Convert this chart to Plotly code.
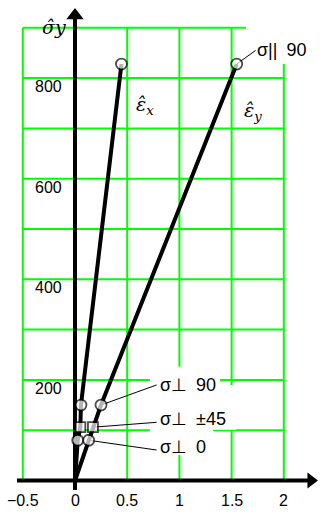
import plotly.graph_objects as go

# ---------------- data ----------------
grid_x = [-0.5, 0, 0.5, 1, 1.5, 2]
grid_y = [100, 200, 300, 400, 500, 600, 700, 800, 900]
xtick_vals = [-0.5, 0, 0.5, 1, 1.5, 2]
xtick_text = ["\u22120.5", "0", "0.5", "1", "1.5", "2"]
ytick_vals = [200, 400, 600, 800]
ytick_text = ["200", "400", "600", "800"]

# load cases (marked points); curves start at the origin
case_labels = ["\u03c3\u22a5\u20020", "\u03c3\u22a5\u2002\u00b145", "\u03c3\u22a5\u200290", "\u03c3||\u200290"]
case_sigma = [80, 106, 150, 828]
case_eps_x = [0.026, 0.051, 0.057, 0.445]
case_eps_y = [0.131, 0.172, 0.249, 1.549]

# ---------------- layout helpers (positions / styles) ----------------
X_RANGE = [-0.7184, 2.3467]
Y_RANGE = [-74.55, 955.3]
GREEN = "#00ff00"
TICK_FONT = dict(family="Liberation Sans, Arial", size=16, color="black")
LABEL_FONT = dict(family="Liberation Sans, Arial", size=18, color="black")
MATH_FONT = dict(family="DejaVu Serif, serif", size=19, color="black")

fig = go.Figure()

# grid (limited to the plot box)
gx, gy = [], []
for v in grid_x:
    gx += [v, v, None]
    gy += [0, grid_y[-1], None]
for v in grid_y:
    gx += [grid_x[0], grid_x[-1], None]
    gy += [v, v, None]
fig.add_trace(go.Scatter(x=gx, y=gy, mode="lines", line=dict(color=GREEN, width=2),
                         hoverinfo="skip", showlegend=False))

# white label backgrounds hiding the grid
boxes = [
    (1.638, 2.155, 828, 915),
    (0.718, 1.389, 170, 226),
    (0.718, 1.542, 101, 190),
    (0.718, 1.322, 50.7, 103),
]
for x0, x1, y0, y1 in boxes:
    fig.add_trace(go.Scatter(x=[x0, x1, x1, x0, x0], y=[y0, y0, y1, y1, y0], mode="lines",
                             fill="toself", fillcolor="white", line=dict(width=0, color="white"),
                             hoverinfo="skip", showlegend=False))

# connector lines from the eps_y points to the labels
label_anchor_x = [0.782, 0.782, 0.782, 1.73]
label_anchor_y = [60.6, 115.7, 190, 855]
cx, cy = [], []
for i in range(len(case_labels)):
    cx += [case_eps_y[i], label_anchor_x[i], None]
    cy += [case_sigma[i], label_anchor_y[i], None]
fig.add_trace(go.Scatter(x=cx, y=cy, mode="lines", line=dict(color="black", width=1),
                         hoverinfo="skip", showlegend=False))

# axes (crossed, with arrows)
fig.add_trace(go.Scatter(x=[-0.556, 2.24], y=[0, 0], mode="lines",
                         line=dict(color="black", width=4), hoverinfo="skip", showlegend=False))
fig.add_trace(go.Scatter(x=[0, 0], y=[-19, 919], mode="lines",
                         line=dict(color="black", width=4), hoverinfo="skip", showlegend=False))
fig.add_trace(go.Scatter(x=[2.26], y=[0], mode="markers",
                         marker=dict(symbol="triangle-right", size=14, color="black", line=dict(width=0)),
                         hoverinfo="skip", showlegend=False, cliponaxis=False))
fig.add_trace(go.Scatter(x=[0], y=[924.5], mode="markers",
                         marker=dict(symbol="triangle-up", size=15, color="black", line=dict(width=0)),
                         hoverinfo="skip", showlegend=False, cliponaxis=False))

# curves
line_s = [0] + case_sigma
fig.add_trace(go.Scatter(x=[0] + case_eps_x, y=line_s, mode="lines",
                         line=dict(color="black", width=4), name="\u03b5x", showlegend=False))
fig.add_trace(go.Scatter(x=[0] + case_eps_y, y=line_s, mode="lines",
                         line=dict(color="black", width=4), name="\u03b5y", showlegend=False))

# markers
symbols = ["circle", "square", "circle", "circle"]
sizes = [11, 10, 11, 11]
for xs in (case_eps_x, case_eps_y):
    fig.add_trace(go.Scatter(x=xs, y=case_sigma, mode="markers",
                             marker=dict(symbol=symbols, size=sizes, color="white",
                                         line=dict(color="black", width=1.8)),
                             showlegend=False, cliponaxis=False))

annotations = []
# tick labels
for v, t in zip(xtick_vals, xtick_text):
    annotations.append(dict(x=v, y=-39, text=t, showarrow=False, font=TICK_FONT,
                            xanchor="center", yanchor="middle"))
for v, t in zip(ytick_vals, ytick_text):
    annotations.append(dict(x=-0.11, y=v - 17, text=t, showarrow=False, font=TICK_FONT,
                            xanchor="right", yanchor="middle"))
# load case labels
label_x = [0.795, 0.795, 0.795, 1.724]
label_y = [67, 122, 190, 856]
for t, lx, ly in zip(case_labels, label_x, label_y):
    annotations.append(dict(x=lx, y=ly, text=t, showarrow=False, font=LABEL_FONT,
                            xanchor="left", yanchor="middle"))
# axis / curve names
annotations.append(dict(x=-0.2, y=901, text="<i>\u03c3\u0302y</i>", showarrow=False,
                        font=MATH_FONT, xanchor="center", yanchor="middle"))
annotations.append(dict(x=0.67, y=746, text="<i>\u03b5\u0302<sub>x</sub></i>", showarrow=False,
                        font=MATH_FONT, xanchor="center", yanchor="middle"))
annotations.append(dict(x=1.705, y=733, text="<i>\u03b5\u0302<sub>y</sub></i>", showarrow=False,
                        font=MATH_FONT, xanchor="center", yanchor="middle"))

fig.update_layout(
    width=320, height=518,
    margin=dict(l=0, r=0, t=0, b=0),
    paper_bgcolor="white", plot_bgcolor="white",
    xaxis=dict(range=X_RANGE, domain=[0, 1], visible=False, fixedrange=True),
    yaxis=dict(range=Y_RANGE, domain=[0, 1], visible=False, fixedrange=True),
    annotations=annotations,
    showlegend=False,
)

fig.write_html("out.html")
